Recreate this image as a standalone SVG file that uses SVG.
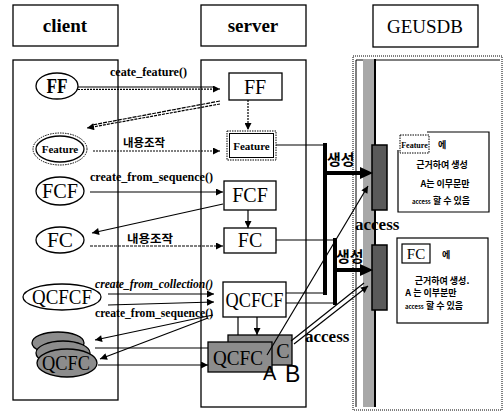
<svg xmlns="http://www.w3.org/2000/svg" width="504" height="413" viewBox="0 0 504 413">
<defs>
<marker id="ah" viewBox="0 0 10 10" refX="10" refY="5" markerWidth="8" markerHeight="7" orient="auto" markerUnits="userSpaceOnUse"><path d="M0,0L10,5L0,10z" fill="#000"/></marker>
</defs>
<style>
.b{fill:none;stroke:#000;stroke-width:1.3}
.w{fill:#fff;stroke:#000;stroke-width:1.3}
.g{fill:#8c8c8c;stroke:#000;stroke-width:1.3}
.hd{font-family:"Liberation Serif",serif;font-size:19px;font-weight:bold;text-anchor:middle}
.nd{font-family:"Liberation Serif",serif;font-size:20px;text-anchor:middle}
.sm{font-family:"Liberation Serif",serif;font-size:11px;font-weight:bold;text-anchor:middle}
.lb{font-family:"Liberation Serif",serif;font-size:12px;font-weight:bold}
.kr{font-family:"Noto Sans CJK KR",sans-serif;font-weight:bold}
.ln{fill:none;stroke:#000;stroke-width:1.2}
.ar{fill:none;stroke:#000;stroke-width:1.2;marker-end:url(#ah)}
.th{fill:none;stroke:#000;stroke-width:4}
</style>
<rect width="504" height="413" fill="#fff"/>

<g id="headers">
<rect class="w" x="13" y="5" width="105" height="41"/>
<text class="hd" x="65" y="32">client</text>
<rect class="w" x="201" y="5" width="105" height="41"/>
<text class="hd" x="253" y="32">server</text>
<rect class="w" x="373" y="5" width="105" height="42"/>
<text class="hd" x="425" y="33" style="font-weight:normal">GEUSDB</text>
</g>

<g id="panels">
<rect class="b" x="13" y="60" width="105" height="340"/>
<rect class="b" x="201" y="60" width="105" height="347"/>
<rect x="353" y="56" width="149" height="354" fill="none" stroke="#000" stroke-width="1" stroke-dasharray="1,1"/>
<polyline points="356,407 356,60 500,60" fill="none" stroke="#000" stroke-width="1"/>
<rect x="363" y="59" width="11" height="348" fill="#a8a8a8"/>
<line x1="375" y1="59" x2="375" y2="407" stroke="#000" stroke-width="2"/>
</g>

<g id="db-blocks">
<rect x="372" y="145" width="15" height="65" fill="#5a5a5a" stroke="#000" stroke-width="1.5"/>
<rect x="372" y="245" width="15" height="65" fill="#5a5a5a" stroke="#000" stroke-width="1.5"/>
</g>

<g id="note1">
<polyline points="427,132 489,132 489,212 398,212 398,150" fill="none" stroke="#000" stroke-width="1.2"/>
<rect x="400" y="135" width="29" height="18" fill="#fff" stroke="#000" stroke-width="1" stroke-dasharray="1.5,1"/>
<text class="sm" x="414.5" y="148" style="font-size:8px">Feature</text>
<text class="kr" x="438" y="148" font-size="9">에</text>
<text class="kr" x="442" y="168" font-size="9" text-anchor="middle">근거하여 생성</text>
<text class="kr" x="445" y="187" font-size="9" text-anchor="middle">A는 이무문만</text>
<text class="kr" x="441" y="204" font-size="9" text-anchor="middle"><tspan font-size="6">access</tspan> 할 수 있음</text>
</g>

<g id="note2">
<rect x="397" y="238" width="91" height="85" fill="#fff" stroke="#000" stroke-width="1.2"/>
<rect x="402" y="244" width="28" height="19" fill="#fff" stroke="#000" stroke-width="1.2"/>
<text class="nd" x="416" y="259" style="font-size:15px">FC</text>
<text class="kr" x="442" y="258" font-size="9">에</text>
<text class="kr" x="442" y="284" font-size="9" text-anchor="middle">근거하여 생성.</text>
<text class="kr" x="431" y="296" font-size="9" text-anchor="middle">A 는 이부분만</text>
<text class="kr" x="434" y="309" font-size="9" text-anchor="middle"><tspan font-size="6">access</tspan> 할 수 있음</text>
</g>

<g id="connectors">
<line class="ln" x1="78" y1="87" x2="214" y2="87"/>
<line class="ar" x1="78" y1="89.5" x2="220" y2="89" stroke-dasharray="2,1"/>
<text class="lb" x="110" y="76" textLength="77" lengthAdjust="spacingAndGlyphs">ceate_feature()</text>
<line class="ln" x1="220" y1="101" x2="92" y2="125" stroke-dasharray="4,1"/>
<line class="ar" x1="220" y1="104" x2="87" y2="128" stroke-dasharray="3,1"/>
<line class="ar" x1="93" y1="151" x2="220" y2="151" stroke-dasharray="2,1"/>
<text class="kr" x="123" y="147" font-size="11" textLength="42" lengthAdjust="spacingAndGlyphs">내용조작</text>
<line class="ar" x1="248" y1="100" x2="248" y2="130" stroke-dasharray="2,1" stroke-width="2"/>
<line class="ar" x1="90" y1="192" x2="223" y2="192"/>
<text class="lb" x="90" y="181" textLength="123" lengthAdjust="spacingAndGlyphs">create_from_sequence()</text>
<line class="ar" x1="223" y1="204" x2="92" y2="233"/>
<line class="ar" x1="248" y1="210" x2="248" y2="228"/>
<line class="ar" x1="90" y1="246" x2="223" y2="246" stroke-dasharray="3,1"/>
<text class="kr" x="127" y="243" font-size="11" textLength="46" lengthAdjust="spacingAndGlyphs">내용조작</text>
<line class="ar" x1="108" y1="294" x2="214" y2="294"/>
<text class="lb" x="95" y="288" font-style="italic" textLength="118" lengthAdjust="spacingAndGlyphs">create_from_collection()</text>
<line class="ar" x1="108" y1="305" x2="214" y2="302"/>
<text class="lb" x="95" y="317" textLength="118" lengthAdjust="spacingAndGlyphs">create_from_sequence()</text>
<line class="ar" x1="213" y1="315" x2="95" y2="340"/>
<line class="ar" x1="208" y1="318" x2="100" y2="359"/>
<line class="ln" x1="95" y1="348" x2="208" y2="348"/>
<line class="ar" x1="98" y1="365" x2="208" y2="365"/>
<line class="ar" x1="238" y1="317" x2="238" y2="342"/>
<line class="ar" x1="257" y1="317" x2="257" y2="335"/>
<polyline class="ln" points="276,145 325,145"/>
<line class="th" x1="325" y1="143" x2="325" y2="295"/>
<polyline class="ln" points="286,293 325,293"/>
<line class="th" x1="325" y1="173" x2="362" y2="173"/>
<polygon points="360,167 373,173 360,179" fill="#000"/>
<polyline class="ln" points="276,240 335,240"/>
<line class="th" x1="335" y1="238" x2="335" y2="305"/>
<polyline class="ln" points="286,303 335,303"/>
<line class="th" x1="335" y1="270" x2="362" y2="270"/>
<polygon points="360,264 373,270 360,276" fill="#000"/>
<text class="kr" x="327" y="165" font-size="15">생성</text>
<text class="kr" x="336" y="262" font-size="15">생성</text>
</g>

<g id="client-FF">
<ellipse class="w" cx="57" cy="86" rx="21" ry="13"/>
<text class="nd" x="57" y="93" font-weight="bold" textLength="21" lengthAdjust="spacingAndGlyphs">FF</text>
</g>
<g id="client-Feature">
<ellipse cx="60" cy="149" rx="27" ry="16" fill="none" stroke="#000" stroke-width="1" stroke-dasharray="1.5,1"/>
<ellipse class="w" cx="60" cy="149" rx="24" ry="13"/>
<text class="sm" x="60" y="153">Feature</text>
</g>
<g id="client-FCF">
<ellipse class="w" cx="60" cy="191" rx="24" ry="14"/>
<text class="nd" x="60" y="198" textLength="36" lengthAdjust="spacingAndGlyphs">FCF</text>
</g>
<g id="client-FC">
<ellipse class="w" cx="60" cy="240" rx="24" ry="13"/>
<text class="nd" x="60" y="247" textLength="26" lengthAdjust="spacingAndGlyphs">FC</text>
</g>
<g id="client-QCFCF">
<ellipse class="w" cx="62" cy="297" rx="39" ry="13"/>
<text class="nd" x="62" y="304" textLength="60" lengthAdjust="spacingAndGlyphs">QCFCF</text>
</g>
<g id="client-QCFC">
<ellipse class="g" cx="58" cy="343" rx="26" ry="11"/>
<ellipse class="g" cx="63" cy="353" rx="27" ry="12"/>
<ellipse class="g" cx="67" cy="363" rx="30" ry="14"/>
<text class="nd" x="66" y="370" textLength="48" lengthAdjust="spacingAndGlyphs">QCFC</text>
</g>

<g id="server-FF">
<rect class="w" x="229" y="73" width="53" height="27"/>
<text class="nd" x="255" y="94">FF</text>
</g>
<g id="server-Feature">
<rect x="227" y="131" width="49" height="29" fill="#fff" stroke="#000" stroke-width="1" stroke-dasharray="1.5,1"/>
<rect x="229.5" y="133.5" width="44" height="24" fill="none" stroke="#000" stroke-width="1"/>
<text class="sm" x="251.5" y="150">Feature</text>
</g>
<g id="server-FCF">
<rect class="w" x="224" y="181" width="52" height="29"/>
<text class="nd" x="250" y="202">FCF</text>
</g>
<g id="server-FC">
<rect class="w" x="224" y="228" width="52" height="25"/>
<text class="nd" x="250" y="247">FC</text>
</g>
<g id="server-QCFCF">
<rect class="w" x="223" y="282" width="63" height="35"/>
<text class="nd" x="254.5" y="307" textLength="58" lengthAdjust="spacingAndGlyphs">QCFCF</text>
</g>
<g id="server-QCFC">
<rect class="g" x="228" y="335" width="64" height="30"/>
<text class="nd" x="283" y="358">C</text>
<rect class="g" x="208" y="342" width="64" height="30"/>
<text class="nd" x="238" y="365" textLength="50" lengthAdjust="spacingAndGlyphs">QCFC</text>
</g>

<g id="access">
<line class="ar" x1="267" y1="355" x2="368" y2="186" stroke-width="1.5"/>
<line class="ln" x1="291" y1="341" x2="364" y2="283"/>
<line class="ar" x1="294" y1="344" x2="368" y2="286"/>
<text x="355" y="230" font-family="Liberation Serif,serif" font-size="17" font-weight="bold">access</text>
<text x="305" y="342" font-family="Liberation Serif,serif" font-size="17" font-weight="bold">access</text>
<text x="263" y="380" font-family="Liberation Sans,sans-serif" font-size="20">A</text>
<text x="285" y="382" font-family="Liberation Sans,sans-serif" font-size="23">B</text>
</g>
</svg>
